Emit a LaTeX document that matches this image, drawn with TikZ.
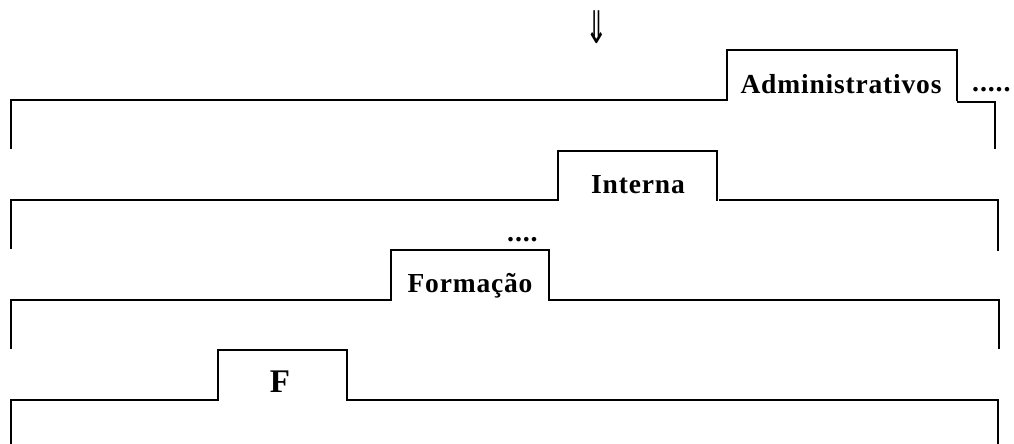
\documentclass[tikz,border=0pt]{standalone}
\usepackage{fontspec}
\setmainfont{Liberation Serif}
\newfontfamily\spaced[LetterSpace=3]{Liberation Serif}
\newfontfamily\symfont{DejaVu Sans}
\begin{document}
\begin{tikzpicture}[x=1pt,y=-1pt,
  rule/.style={line width=1.8pt, line cap=rect, line join=miter},
  label/.style={font=\spaced\fontsize{27.5}{30}\selectfont\bfseries, anchor=base, inner sep=0pt},
  dots/.style={font=\spaced\fontsize{28}{30}\selectfont\bfseries, anchor=base west, inner sep=0pt}]
\useasboundingbox (0,0) rectangle (1014,444);

% downward double arrow at the top
\node[inner sep=0pt] (arrow) at (597,27)
  {\scalebox{0.9}[1.5]{\symfont\fontsize{30}{32}\selectfont ⇓}};

% tier 1: Administrativos
\draw[rule] (11,148) -- (11,100) -- (727,100) -- (727,50) -- (957,50) -- (957,100);
\draw[rule] (958,102) -- (995,102) -- (995,148);
\node[label] (adm) at (841,93) {Administrativos};
\node[dots] (admdots) at (972,92) {.....};

% tier 2: Interna
\draw[rule] (11,248) -- (11,200) -- (558,200) -- (558,151) -- (717,151) -- (717,200);
\draw[rule] (720,200) -- (998,200) -- (998,250);
\node[label] (int) at (638,193) {Interna};

% tier 3: Formação
\node[dots] (fordots) at (507,241) {....};
\draw[rule] (11,348) -- (11,300) -- (391,300) -- (391,250) -- (549,250) -- (549,300);
\draw[rule] (551,300) -- (999,300) -- (999,348);
\node[label] (form) at (470,292) {Formação};

% tier 4: F
\draw[rule] (11,444) -- (11,400) -- (218,400) -- (218,350) -- (347,350) -- (347,400);
\draw[rule] (349,400) -- (998,400) -- (998,444);
\node[label, font=\fontsize{33}{35}\selectfont\bfseries] (f) at (280,392) {F};
\end{tikzpicture}
\end{document}
